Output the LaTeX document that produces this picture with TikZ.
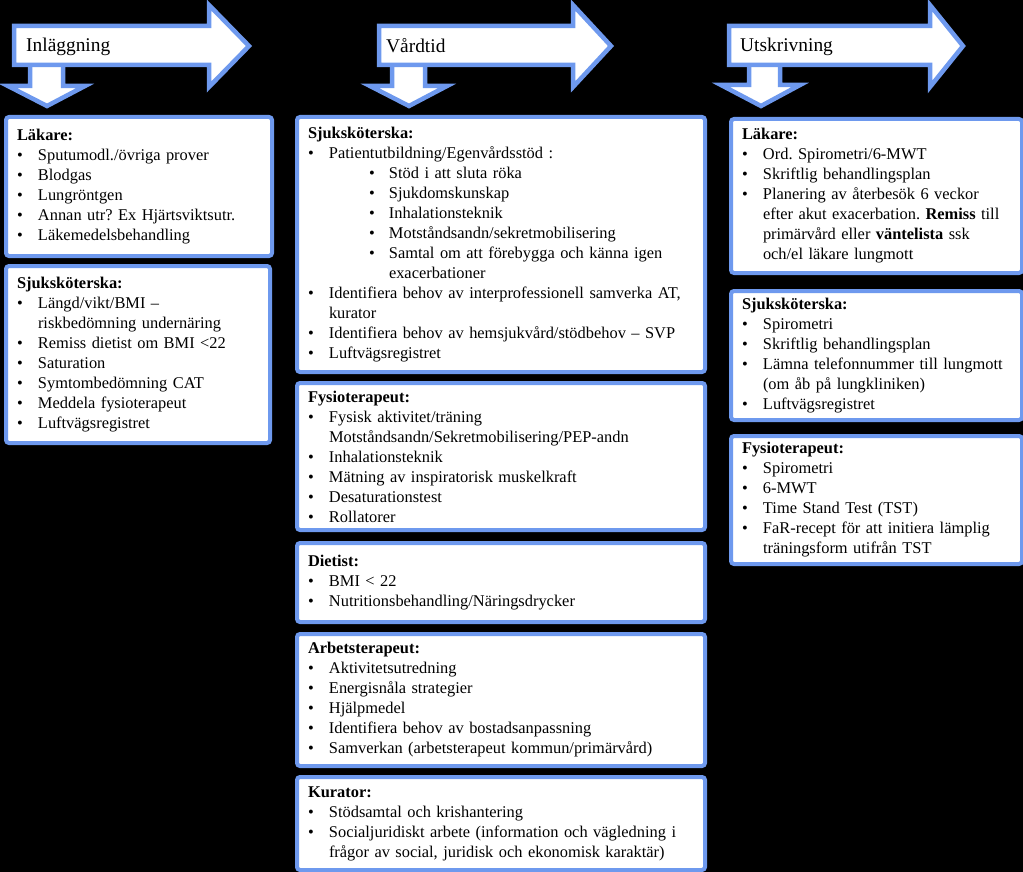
\documentclass[tikz,border=0pt]{standalone}
\usepackage{fontspec}
\setmainfont{Liberation Serif}
\usetikzlibrary{positioning}

\definecolor{rimblue}{RGB}{110,153,238}

\newcommand{\itm}[1]{\par\hangindent=21pt\hangafter=1\noindent\makebox[21pt][l]{\textbullet}#1\par}
\newcommand{\subitm}[1]{\par\hangindent=81pt\hangafter=1\noindent\hspace*{61pt}\makebox[20pt][l]{\textbullet}#1\par}

\begin{document}
\frenchspacing
\begin{tikzpicture}[
    x=1pt, y=-1pt,
    panel/.style={draw=rimblue, line width=4pt, fill=white, rounded corners=3pt,
      anchor=north west, align=left, inner xsep=11pt, inner ysep=2pt,
      font=\fontsize{16.4}{20}\selectfont},
    bigarrow/.style={draw=rimblue, line width=4.5pt, fill=white, line join=miter},
    phase/.style={anchor=base west, inner sep=0pt, font=\fontsize{19.4}{23}\selectfont}
  ]
    \fill[black] (0,0) rectangle (1023,872);
    \useasboundingbox (0,0) rectangle (1023,872);

    % down arrows
    \draw[bigarrow] (30,60) -- (30,86) -- (8,86) -- (47,106) -- (85,86) -- (63,86) -- (63,60);
    \draw[bigarrow] (392,60) -- (392,86) -- (370,86) -- (409,106) -- (447,86) -- (425,86) -- (425,60);
    \draw[bigarrow] (749,60) -- (749,85) -- (721,85) -- (761,106) -- (800,85) -- (780,85) -- (780,60);

    % phase arrows
    \draw[bigarrow] (14,26) -- (209,26) -- (209,5) -- (249,46) -- (209,87) -- (209,65) -- (14,65) -- cycle;
    \draw[bigarrow] (379,26) -- (573,26) -- (573,5) -- (611,46) -- (573,87) -- (573,65) -- (379,65) -- cycle;
    \draw[bigarrow] (729,26) -- (930,26) -- (930,5) -- (963,46) -- (930,87) -- (930,65) -- (729,65) -- cycle;
    \node[phase] (inl) at (26,52) {Inläggning};
    \node[phase] (vard) at (386,53) {Vårdtid};
    \node[phase] (utskr) at (740,52) {Utskrivning};

    % Inläggning
    \node[panel, text width=244pt, minimum height=139pt] (lakIn) at (4,115) {%
      \textbf{Läkare:}
      \itm{Sputumodl./övriga prover}
      \itm{Blodgas}
      \itm{Lungröntgen}
      \itm{Annan utr? Ex Hjärtsviktsutr.}
      \itm{Läkemedelsbehandling}};
    \node[panel, text width=242pt, minimum height=177pt] (sskIn) at (4,264) {%
      \textbf{Sjuksköterska:}
      \itm{Längd/vikt/BMI –\newline riskbedömning undernäring}
      \itm{Remiss dietist om BMI <22}
      \itm{Saturation}
      \itm{Symtombedömning CAT}
      \itm{Meddela fysioterapeut}
      \itm{Luftvägsregistret}};

    % Vårdtid
    \node[panel, text width=386pt, minimum height=255pt] (sskVard) at (295,115) {%
      \textbf{Sjuksköterska:}
      \itm{Patientutbildning/Egenvårdsstöd :}
      \subitm{Stöd i att sluta röka}
      \subitm{Sjukdomskunskap}
      \subitm{Inhalationsteknik}
      \subitm{Motståndsandn/sekretmobilisering}
      \subitm{Samtal om att förebygga och känna igen\newline exacerbationer}
      \itm{Identifiera behov av interprofessionell samverka AT,\newline kurator}
      \itm{Identifiera behov av hemsjukvård/stödbehov – SVP}
      \itm{Luftvägsregistret}};
    \node[panel, text width=386pt, minimum height=147pt] (fysVard) at (295,381) {%
      \textbf{Fysioterapeut:}
      \itm{Fysisk aktivitet/träning\newline Motståndsandn/Sekretmobilisering/PEP-andn}
      \itm{Inhalationsteknik}
      \itm{Mätning av inspiratorisk muskelkraft}
      \itm{Desaturationstest}
      \itm{Rollatorer}};
    \node[panel, text width=386pt, minimum height=79pt] (dietVard) at (295,541) {%
      \textbf{Dietist:}
      \itm{BMI < 22}
      \itm{Nutritionsbehandling/Näringsdrycker}};
    \node[panel, text width=386pt, minimum height=132pt] (arbVard) at (295,632) {%
      \textbf{Arbetsterapeut:}
      \itm{Aktivitetsutredning}
      \itm{Energisnåla strategier}
      \itm{Hjälpmedel}
      \itm{Identifiera behov av bostadsanpassning}
      \itm{Samverkan (arbetsterapeut kommun/primärvård)}};
    \node[panel, text width=386pt, minimum height=93pt] (kurVard) at (295,775) {%
      \textbf{Kurator:}
      \itm{Stödsamtal och krishantering}
      \itm{Socialjuridiskt arbete (information och vägledning i\newline frågor av social, juridisk och ekonomisk karaktär)}};

    % Utskrivning
    \node[panel, text width=269pt, minimum height=154pt] (lakUt) at (729,117) {%
      \textbf{Läkare:}
      \itm{Ord. Spirometri/6-MWT}
      \itm{Skriftlig behandlingsplan}
      \itm{Planering av återbesök 6 veckor\newline efter akut exacerbation. \textbf{Remiss} till\newline primärvård eller \textbf{väntelista} ssk\newline och/el läkare lungmott}};
    \node[panel, text width=269pt, minimum height=129pt] (sskUt) at (729,289) {%
      \textbf{Sjuksköterska:}
      \itm{Spirometri}
      \itm{Skriftlig behandlingsplan}
      \itm{Lämna telefonnummer till lungmott\newline (om åb på lungkliniken)}
      \itm{Luftvägsregistret}};
    \node[panel, text width=269pt, minimum height=128pt] (fysUt) at (729,434) {%
      \textbf{Fysioterapeut:}
      \itm{Spirometri}
      \itm{6-MWT}
      \itm{Time Stand Test (TST)}
      \itm{FaR-recept för att initiera lämplig\newline träningsform utifrån TST}};
  \end{tikzpicture}
\end{document}
